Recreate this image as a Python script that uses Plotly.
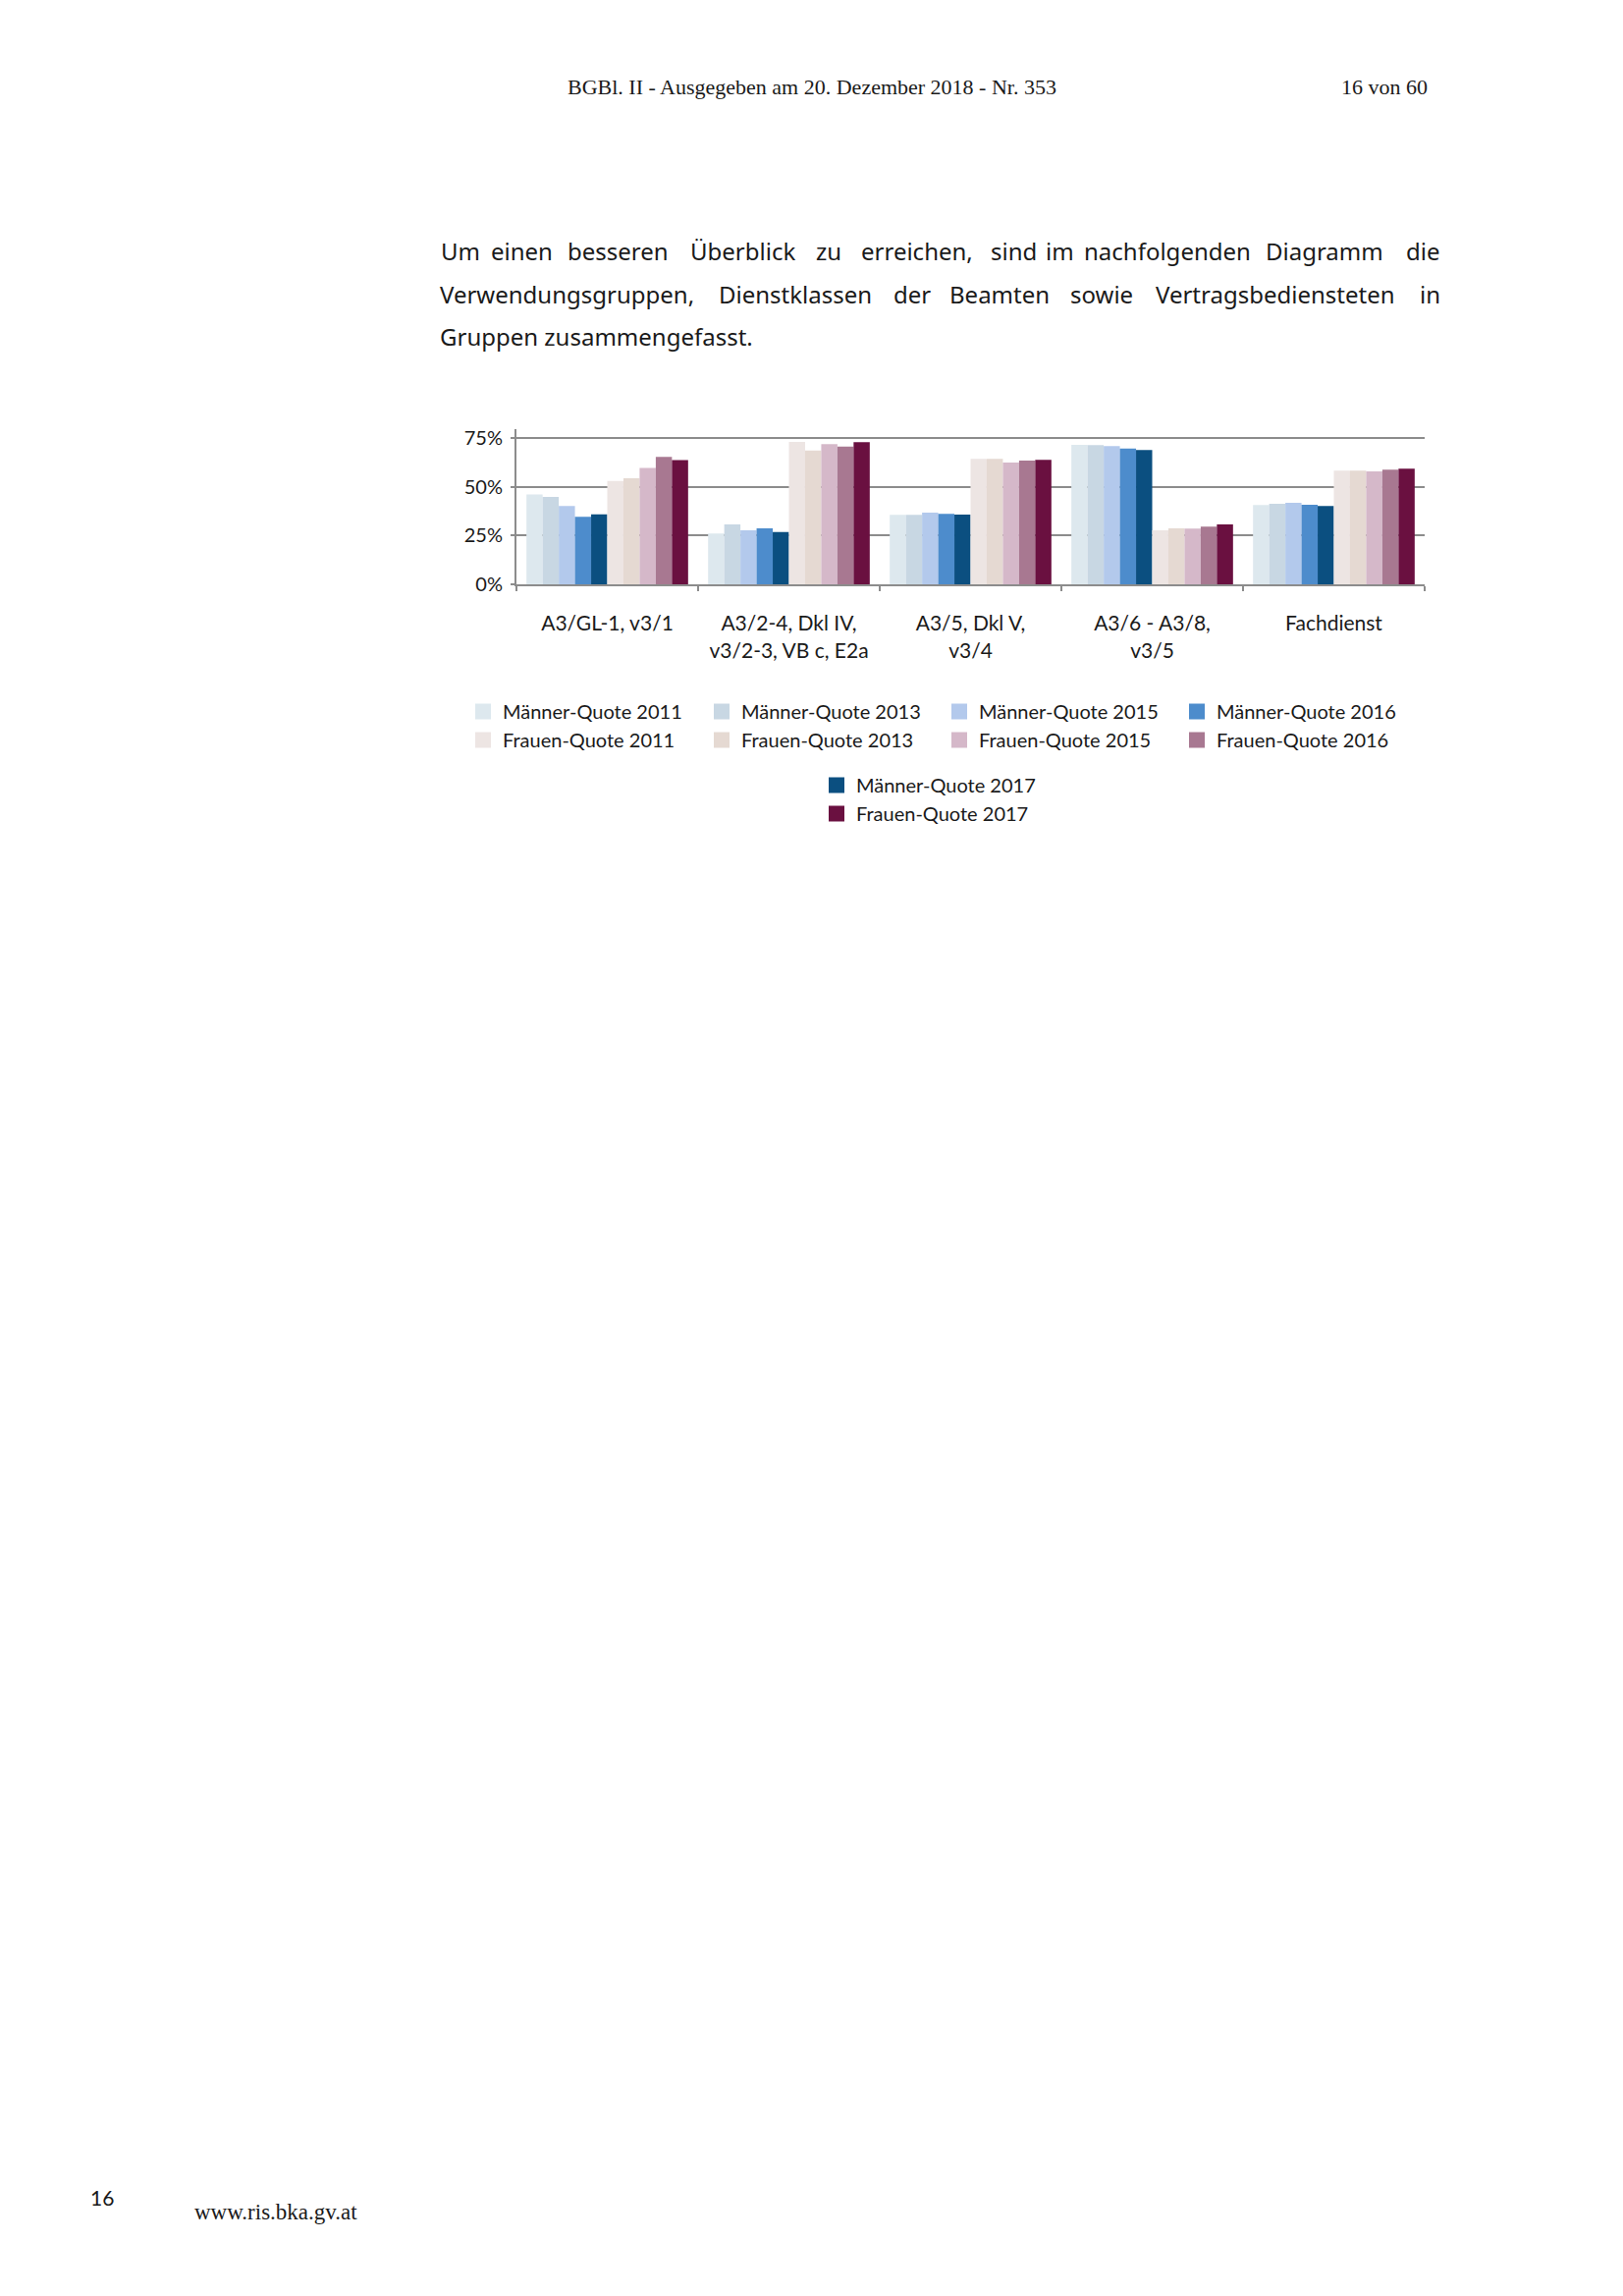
import plotly.graph_objects as go

# categories (x axis)
groups = ['A3/GL-1, v3/1', 'A3/2-4, Dkl IV,<br>v3/2-3, VB c, E2a', 'A3/5, Dkl V,<br>v3/4',
          'A3/6 - A3/8,<br>v3/5', 'Fachdienst']

# quotas in percent
maenner_2011 = [46.1, 26.0, 35.6, 71.5, 40.6]
maenner_2013 = [44.8, 30.7, 35.6, 71.3, 41.3]
maenner_2015 = [40.1, 27.7, 36.7, 70.8, 41.8]
maenner_2016 = [34.6, 28.7, 36.1, 69.5, 40.8]
maenner_2017 = [35.9, 26.8, 35.7, 68.8, 40.1]
frauen_2011 = [53.0, 73.0, 64.3, 27.7, 58.2]
frauen_2013 = [54.4, 68.5, 64.3, 28.7, 58.2]
frauen_2015 = [59.6, 71.8, 62.4, 28.5, 57.9]
frauen_2016 = [65.3, 70.6, 63.4, 29.5, 58.7]
frauen_2017 = [63.6, 72.8, 63.8, 30.7, 59.2]

y_ticks = [0, 25, 50, 75]
y_tick_labels = ['0%', '25%', '50%', '75%']

series = [
    ('Männer-Quote 2011', maenner_2011, '#dde8ee', 'legend'),
    ('Männer-Quote 2013', maenner_2013, '#c8d7e3', 'legend2'),
    ('Männer-Quote 2015', maenner_2015, '#b3c9ec', 'legend3'),
    ('Männer-Quote 2016', maenner_2016, '#4d8ccc', 'legend4'),
    ('Männer-Quote 2017', maenner_2017, '#0b4f80', 'legend5'),
    ('Frauen-Quote 2011', frauen_2011, '#ede5e3', 'legend'),
    ('Frauen-Quote 2013', frauen_2013, '#e5d9d2', 'legend2'),
    ('Frauen-Quote 2015', frauen_2015, '#d5b8c9', 'legend3'),
    ('Frauen-Quote 2016', frauen_2016, '#a87891', 'legend4'),
    ('Frauen-Quote 2017', frauen_2017, '#6a1040', 'legend5'),
]

SANS = 'Lato, Noto Sans, sans-serif'
BODY = 'Noto Sans, Lato, sans-serif'
SERIF = 'Liberation Serif, Times New Roman, serif'
TXT = '#1a1a1a'
GRAY = '#8c8c8c'

# plot area in page pixels; the figure sits 8px in from the page corner
OFF = 8
L, R, T, B = 526, 1451, 437, 595
W, H = 1637, 2322


def px_x(px):
    return (px - L) / (R - L)


def px_y(py):
    return (B - py) / (B - T)


fig = go.Figure()

for name, vals, color, _ in series:
    fig.add_trace(go.Bar(x=groups, y=vals, name=name, marker_color=color,
                         marker_line_width=0, showlegend=False))

# legend entries (square swatches), paired per year
for i in range(5):
    for name, vals, color, lg in (series[i], series[i + 5]):
        fig.add_trace(go.Scatter(x=[None], y=[None], mode='markers', name=name,
                                 marker=dict(symbol='square', size=20, color=color),
                                 legend=lg, showlegend=True))

legend_pos = [('legend', 512, 705), ('legend2', 755, 705), ('legend3', 997, 705),
              ('legend4', 1239, 705), ('legend5', 872, 780)]
legends = {}
for key, tx, ty in legend_pos:
    legends[key] = dict(x=px_x(tx - 40), y=px_y(ty), xanchor='left', yanchor='top',
                        orientation='v', bgcolor='rgba(0,0,0,0)', borderwidth=0,
                        font=dict(family=SANS, size=20, color=TXT), traceorder='normal')

annotations = []


def note(text, x, y, size, family, xanchor='center'):
    annotations.append(dict(text=text, x=px_x(x), y=px_y(y), xref='paper', yref='paper',
                            xanchor=xanchor, yanchor='middle', showarrow=False,
                            font=dict(family=family, size=size, color=TXT)))


note('BGBl. II - Ausgegeben am 20. Dezember 2018 - Nr. 353', 827, 88, 22, SERIF)
note('16 von 60', 1456, 88, 22, SERIF, 'right')

# justified paragraph: word centres as read from the page
line1 = [('Um', 469), ('einen', 531), ('besseren', 629), ('Überblick', 756), ('zu', 844),
         ('erreichen,', 934), ('sind', 1032), ('im', 1079), ('nachfolgenden', 1189),
         ('Diagramm', 1349), ('die', 1449)]
line2 = [('Verwendungsgruppen,', 577), ('Dienstklassen', 810), ('der', 929), ('Beamten', 1018),
         ('sowie', 1122), ('Vertragsbediensteten', 1299), ('in', 1456)]
for w, x in line1:
    note(w, x, 255, 24, BODY)
for w, x in line2:
    note(w, x, 299, 24, BODY)
note('Gruppen zusammengefasst.', 607, 342, 24, BODY)

note('16', 104, 2237, 21, SANS)
note('www.ris.bka.gv.at', 196, 2252, 23, SERIF, 'left')

fig.update_layout(
    template='none',
    width=W, height=H,
    margin=dict(l=L - OFF, r=W - (R - OFF), t=T - OFF, b=H - (B - OFF), pad=0),
    paper_bgcolor='white', plot_bgcolor='white',
    barmode='group', bargap=0.11, bargroupgap=0,
    annotations=annotations,
    font=dict(family=SANS, size=20, color=TXT),
    **legends,
)
fig.update_xaxes(showline=True, linecolor=GRAY, linewidth=2, showgrid=False,
                 ticks='outside', tickson='boundaries', ticklen=5, tickcolor=GRAY, tickwidth=2,
                 ticklabelstandoff=20, tickfont=dict(family=SANS, size=21, color=TXT))
fig.update_yaxes(range=[0, 79.5], tickvals=y_ticks, ticktext=y_tick_labels, showline=True,
                 linecolor=GRAY, linewidth=2, showgrid=True, gridcolor=GRAY, gridwidth=2,
                 zeroline=False, ticks='outside', ticklen=4, tickcolor=GRAY, tickwidth=2,
                 ticklabelstandoff=4, tickfont=dict(family=SANS, size=20, color=TXT))

fig.write_html('out.html')
